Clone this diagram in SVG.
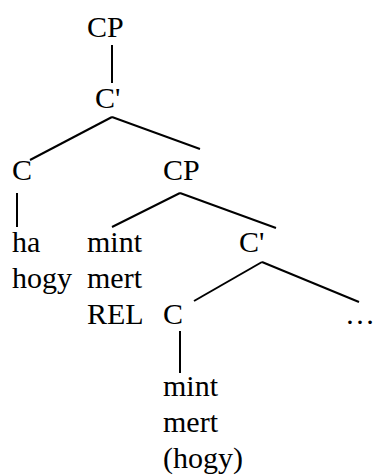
<svg xmlns="http://www.w3.org/2000/svg" width="374" height="475" viewBox="0 0 374 475">
<style>
text{font-family:"Liberation Serif","Times New Roman",serif;font-size:30px;fill:#000}
.e{stroke:#000;stroke-width:2;fill:none;stroke-linecap:butt}
</style>
<rect width="374" height="475" fill="#fff"/>
<g id="connectors">
<line class="e" x1="112" y1="45" x2="112" y2="83"/>
<line class="e" x1="112" y1="117" x2="30" y2="160"/>
<line class="e" x1="112" y1="117" x2="200" y2="149"/>
<line class="e" x1="17" y1="193" x2="17" y2="227"/>
<line class="e" x1="180" y1="193" x2="112" y2="227"/>
<line class="e" x1="180" y1="193" x2="276" y2="228"/>
<line class="e" x1="262" y1="262" x2="194" y2="301"/>
<line class="e" x1="262" y1="262" x2="359" y2="302"/>
<line class="e" x1="180" y1="331" x2="180" y2="373"/>
</g>
<g id="n-cp1"><text x="87" y="37">CP</text></g>
<g id="n-cbar1"><text x="95" y="108">C'</text></g>
<g id="n-c1"><text x="12" y="180">C</text></g>
<g id="n-cp2"><text x="163" y="180">CP</text></g>
<g id="n-ha"><text x="12" y="252">ha</text><text x="12" y="288">hogy</text></g>
<g id="n-spec"><text x="87" y="252">mint</text><text x="87" y="288">mert</text><text x="87" y="324">REL</text></g>
<g id="n-cbar2"><text x="239" y="252">C'</text></g>
<g id="n-c2"><text x="163" y="324">C</text></g>
<g id="n-dots"><text x="345" y="324">…</text></g>
<g id="n-mint"><text x="163" y="396">mint</text><text x="163" y="432">mert</text><text x="163" y="468">(hogy)</text></g>
</svg>
